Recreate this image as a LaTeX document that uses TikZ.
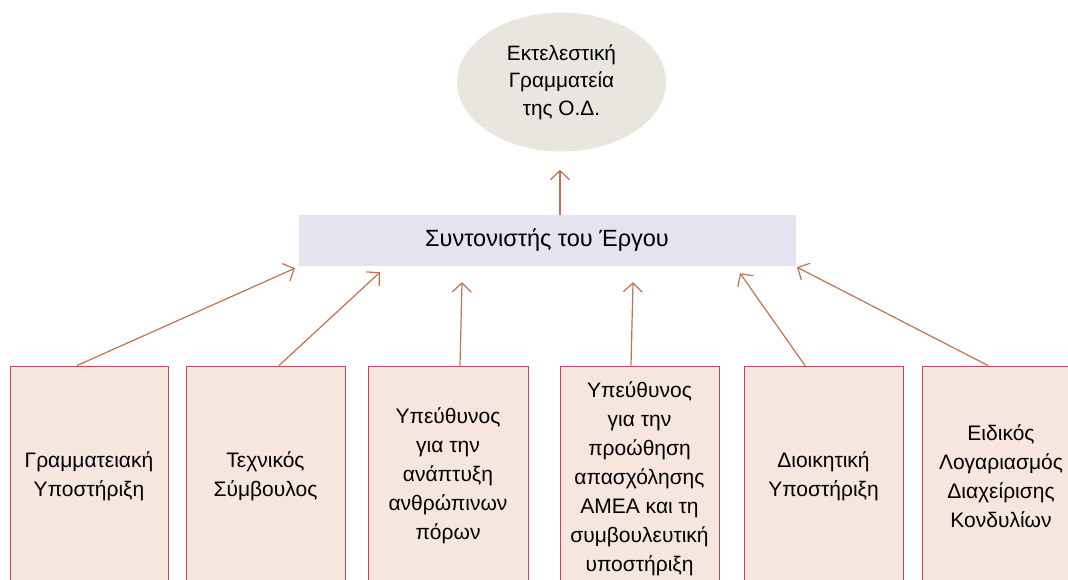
\documentclass[tikz,border=0pt]{standalone}
\usepackage{fontspec}
\setmainfont{Liberation Sans}
\usetikzlibrary{arrows.meta,shapes.geometric}
\definecolor{ellfill}{HTML}{E9E6E0}
\definecolor{coordfill}{HTML}{E5E3EE}
\definecolor{boxfill}{HTML}{F5E7DE}
\definecolor{boxline}{HTML}{C8455C}
\definecolor{arrcol}{HTML}{C4714F}
\tikzset{
  role/.style={draw=boxline, line width=0.9pt, fill=boxfill, rectangle, minimum height=220pt, inner sep=0pt, align=center, font=\fontsize{21}{29}\selectfont},
  link/.style={draw=arrcol, line width=1.2pt, -{Straight Barb[length=9pt,width=19pt,line width=1.2pt]}},
}
\begin{document}
\begin{tikzpicture}[x=1pt,y=-1pt]
\useasboundingbox (0,0) rectangle (1068,579);
\clip (0,0) rectangle (1068,579);
\node[ellipse, fill=ellfill, minimum width=209pt, minimum height=139pt, inner sep=0pt, align=center, font=\fontsize{20.8}{27.5}\selectfont] (top) at (561.5,82) {Εκτελεστική\\Γραμματεία\\της Ο.Δ.};
\node[rectangle, fill=coordfill, minimum width=497pt, minimum height=51pt, inner sep=0pt, font=\fontsize{23.5}{28}\selectfont] (coord) at (547,240.5) {Συντονιστής του Έργου};
\node[role, minimum width=158pt] (b1) at (89,476) {Γραμματειακή\\Υποστήριξη};
\node[role, minimum width=159pt] (b2) at (265.5,476) {Τεχνικός\\Σύμβουλος};
\node[role, minimum width=160pt] (b3) at (448,476) {Υπεύθυνος\\για την\\ανάπτυξη\\ανθρώπινων\\πόρων};
\node[role, minimum width=159pt] (b4) at (639.5,476) {\raisebox{-8pt}[0pt][0pt]{\begin{tabular}{@{}c@{}}Υπεύθυνος\\για την\\προώθηση\\απασχόλησης\\ΑΜΕΑ και τη\\συμβουλευτική\\υποστήριξη\end{tabular}}};
\node[role, minimum width=159pt] (b5) at (823.5,476) {Διοικητική\\Υποστήριξη};
\node[role, minimum width=158pt] (b6) at (1001,476) {Ειδικός\\Λογαριασμός\\Διαχείρισης\\Κονδυλίων};
\draw[link] ([xshift=13pt]coord.north) -- ([xshift=13pt,yshift=45pt]coord.north);
\draw[link] ([xshift=-12pt]b1.north) -- ([xshift=-252pt,yshift=-2pt]coord.south);
\draw[link] ([xshift=13.5pt]b2.north) -- ([xshift=-167pt,yshift=-6pt]coord.south);
\draw[link] ([xshift=12pt]b3.north) -- ([xshift=-85pt,yshift=-16pt]coord.south);
\draw[link] ([xshift=-8.5pt]b4.north) -- ([xshift=86pt,yshift=-16pt]coord.south);
\draw[link] ([xshift=-18.5pt]b5.north) -- ([xshift=193pt,yshift=-7pt]coord.south);
\draw[link] ([xshift=-13pt]b6.north) -- ([xshift=250pt,yshift=-1pt]coord.south);
\end{tikzpicture}
\end{document}
